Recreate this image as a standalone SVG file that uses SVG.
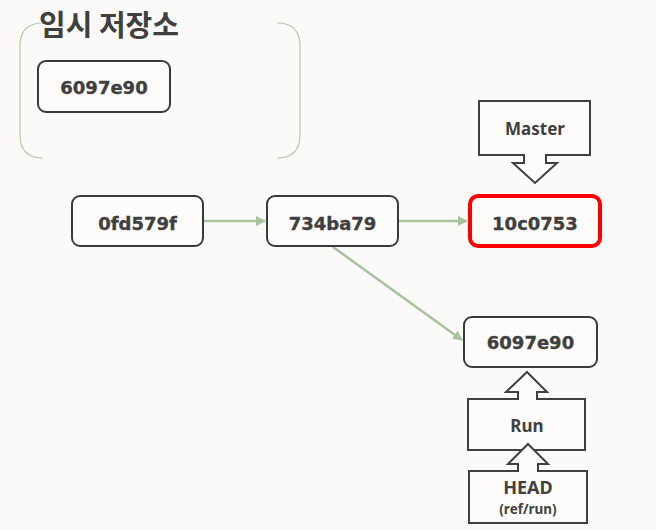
<svg xmlns="http://www.w3.org/2000/svg" width="656" height="530" viewBox="0 0 656 530">
<defs>
<style>
.bg{fill:#fbfaf8}
.node rect{fill:#fdfcfb;stroke:#3a3a3a;stroke-width:2}
.t{font-family:"DejaVu Sans","Noto Sans CJK KR",sans-serif;font-weight:bold;fill:#3f3f3f;stroke:#3f3f3f;stroke-width:0.35;text-anchor:middle}
.l{font-family:"Noto Sans","Noto Sans CJK KR",sans-serif;font-weight:bold;fill:#404040;text-anchor:middle}
.kr{font-family:"Noto Sans CJK KR",sans-serif;font-weight:bold;fill:#404040}
.call{fill:#fdfcfb;stroke:#404040;stroke-width:2;stroke-linejoin:miter}
.edge{stroke:#a8c29f;stroke-width:2.5;fill:none}
.brace{stroke:#b3cbaa;stroke-width:1.2;fill:none}
</style>
<marker id="ah" viewBox="0 0 10 10" refX="9" refY="5" markerWidth="4" markerHeight="4" orient="auto" markerUnits="strokeWidth">
<path d="M0,0 L10,5 L0,10 z" fill="#a8c29f"/>
</marker>
</defs>
<rect class="bg" x="0" y="0" width="656" height="530"/>

<g id="stash">
<path class="brace" d="M43,23 Q20,23 20,46 L20,135 Q20,158 43,158"/>
<path class="brace" d="M277,23 Q300,23 300,46 L300,135 Q300,158 277,158"/>
<text class="kr" x="39" y="36" font-size="29">임시 저장소</text>
</g>

<g id="stash-6097e90" class="node">
<rect x="38" y="61" width="132" height="51" rx="8"/>
<text class="t" x="104" y="93.5" font-size="18">6097e90</text>
</g>

<g id="edges">
<line class="edge" x1="203" y1="221" x2="265" y2="221" marker-end="url(#ah)"/>
<line class="edge" x1="398" y1="221" x2="467" y2="221" marker-end="url(#ah)"/>
<line class="edge" x1="333" y1="247" x2="462" y2="340" marker-end="url(#ah)"/>
</g>

<g id="n0fd579f" class="node">
<rect x="72" y="196" width="131" height="50" rx="8"/>
<text class="t" x="137.5" y="229.5" font-size="18">0fd579f</text>
</g>
<g id="n734ba79" class="node">
<rect x="267" y="196" width="131" height="50" rx="8"/>
<text class="t" x="332.5" y="229.5" font-size="18">734ba79</text>
</g>
<g id="n10c0753" class="node">
<rect x="470" y="196" width="130" height="50" rx="8" style="stroke:#ff0000;stroke-width:4"/>
<text class="t" x="535" y="229.5" font-size="18">10c0753</text>
</g>
<g id="n6097e90" class="node">
<rect x="464" y="317" width="133" height="50" rx="8"/>
<text class="t" x="530.5" y="348.5" font-size="18">6097e90</text>
</g>

<g id="master">
<path class="call" d="M479,101 L590,101 L590,155 L546,155 L546,163 L557,163 L535,183 L513,163 L524,163 L524,155 L479,155 Z"/>
<text class="l" x="535" y="135" font-size="17">Master</text>
</g>

<g id="run">
<path class="call" d="M527,372 L547,392 L537,392 L537,399 L585,399 L585,450 L468,450 L468,399 L518,399 L518,392 L506,392 Z"/>
<text class="l" x="527" y="432" font-size="17">Run</text>
</g>

<g id="head">
<path class="call" d="M528,444 L548,464 L538,464 L538,471 L587,471 L587,523 L469,523 L469,471 L518,471 L518,464 L508,464 Z"/>
<text class="l" x="528" y="494" font-size="18">HEAD</text>
<text class="l" x="528" y="514" font-size="13.5">(ref/run)</text>
</g>
</svg>
